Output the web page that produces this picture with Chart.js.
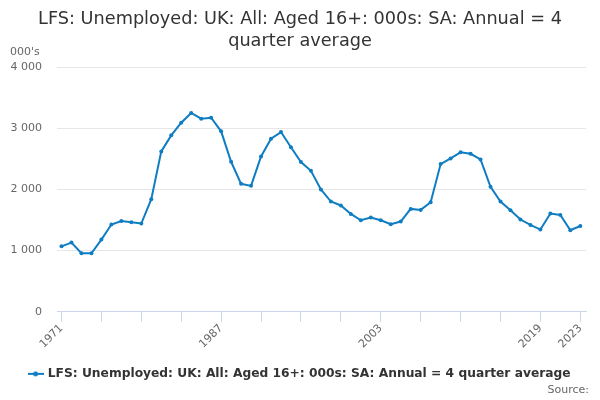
<!DOCTYPE html>
<html>
<head>
<meta charset="utf-8">
<script src="https://cdn.jsdelivr.net/npm/chart.js@4/dist/chart.umd.min.js"></script>
<style>
html,body{margin:0;padding:0;background:#fff;}
#wrap{width:600px;height:400px;position:relative;}
</style>
</head>
<body>
<div id="wrap"><canvas id="c" width="600" height="400"></canvas></div>
<script>
const years = [1971,1972,1973,1974,1975,1976,1977,1978,1979,1980,1981,1982,1983,1984,1985,1986,1987,1988,1989,1990,1991,1992,1993,1994,1995,1996,1997,1998,1999,2000,2001,2002,2003,2004,2005,2006,2007,2008,2009,2010,2011,2012,2013,2014,2015,2016,2017,2018,2019,2020,2021,2022,2023];
const unemployed = [1070,1131,956,956,1180,1426,1485,1464,1443,1841,2623,2885,3092,3251,3157,3174,2951,2453,2092,2059,2541,2830,2939,2690,2448,2305,2000,1803,1738,1600,1497,1541,1497,1431,1475,1682,1666,1792,2415,2508,2607,2584,2492,2043,1803,1661,1508,1420,1344,1607,1584,1333,1403];
const xTickYears = [1971,1975,1979,1983,1987,1991,1995,1999,2003,2007,2011,2015,2019,2023];
const xLabelYears = [1971,1987,2003,2019,2023];
const yTicks = [0,1000,2000,3000,4000];
const titleLines = ['LFS: Unemployed: UK: All: Aged 16+: 000s: SA: Annual = 4','quarter average'];
const seriesName = 'LFS: Unemployed: UK: All: Aged 16+: 000s: SA: Annual = 4 quarter average';
const unitLabel = "000's";
const sourceLabel = 'Source:';

const lineColor = '#0f7dc2';
const FONT = '"DejaVu Sans", sans-serif';

// legend symbol: line with dot
const sym = document.createElement('canvas');
sym.width = 16; sym.height = 10;
(function(){
  const g = sym.getContext('2d');
  g.strokeStyle = lineColor; g.lineWidth = 2;
  g.beginPath(); g.moveTo(0,5); g.lineTo(16,5); g.stroke();
  g.fillStyle = lineColor; g.beginPath(); g.arc(8,5,2.5,0,Math.PI*2); g.fill();
})();

const extras = {
  id: 'extras',
  afterLayout(chart) {
    // let the y tick labels extend into the left padding without clipping
    if (chart.scales.y) chart.scales.y.left = 0;
  },
  afterDraw(chart) {
    const ctx = chart.ctx;
    ctx.save();
    ctx.fillStyle = '#666666';
    ctx.font = '11px ' + FONT;
    ctx.textAlign = 'left';
    ctx.textBaseline = 'middle';
    ctx.fillText(unitLabel, 10, 52);
    ctx.textAlign = 'right';
    ctx.fillText(sourceLabel, 589, 390);
    ctx.restore();
  }
};

new Chart(document.getElementById('c'), {
  type: 'line',
  data: {
    datasets: [{
      label: seriesName,
      data: years.map((y,i) => ({x: y, y: unemployed[i]})),
      borderColor: lineColor,
      backgroundColor: lineColor,
      borderWidth: 2,
      pointRadius: 2,
      pointHoverRadius: 3,
      pointBackgroundColor: lineColor,
      pointBorderWidth: 0,
      tension: 0,
      pointStyle: 'circle'
    }]
  },
  options: {
    responsive: false,
    animation: false,
    devicePixelRatio: 1,
    layout: { padding: { left: 14, right: 14, top: 6, bottom: 10 } },
    plugins: {
      title: {
        display: true,
        text: titleLines,
        color: '#333333',
        font: { family: FONT, size: 17.7, weight: 'normal', lineHeight: 1.22 },
        padding: { top: 3, bottom: 15 }
      },
      legend: {
        display: true,
        position: 'bottom',
        labels: {
          usePointStyle: true,
          pointStyle: sym,
          color: '#333333',
          font: { family: FONT, size: 12.25, weight: 'bold' },
          padding: 10,
          generateLabels(chart) {
            return [{ text: seriesName, pointStyle: sym, fillStyle: lineColor, strokeStyle: lineColor, lineWidth: 0, datasetIndex: 0, fontColor: '#333333' }];
          }
        }
      },
      tooltip: { enabled: false }
    },
    scales: {
      x: {
        type: 'linear',
        min: 1970.55,
        max: 2023.57,
        afterBuildTicks(scale) { scale.ticks = xTickYears.map(v => ({value: v})); },
        afterFit(scale) { scale.height = 46; },
        border: { display: true, color: '#ccd6eb', width: 1 },
        grid: { display: true, drawOnChartArea: false, drawTicks: true, tickLength: 10, color: '#ccd6eb' },
        ticks: {
          autoSkip: false,
          maxRotation: 45,
          minRotation: 45,
          color: '#666666',
          font: { family: FONT, size: 11 },
          padding: 0,
          callback(v) { return xLabelYears.includes(v) ? String(v) : ''; }
        }
      },
      y: {
        min: 0,
        max: 4000,
        afterBuildTicks(scale) { scale.ticks = yTicks.map(v => ({value: v})); },
        afterFit(scale) { scale.width = 43; },
        border: { display: false },
        grid: { color: '#e6e6e6', drawTicks: false, lineWidth: 1 },
        ticks: {
          color: '#666666',
          font: { family: FONT, size: 11 },
          padding: 15,
          callback(v) { return String(v).replace(/\B(?=(\d{3})+(?!\d))/g, ' '); }
        }
      }
    }
  },
  plugins: [extras]
});
</script>
</body>
</html>
